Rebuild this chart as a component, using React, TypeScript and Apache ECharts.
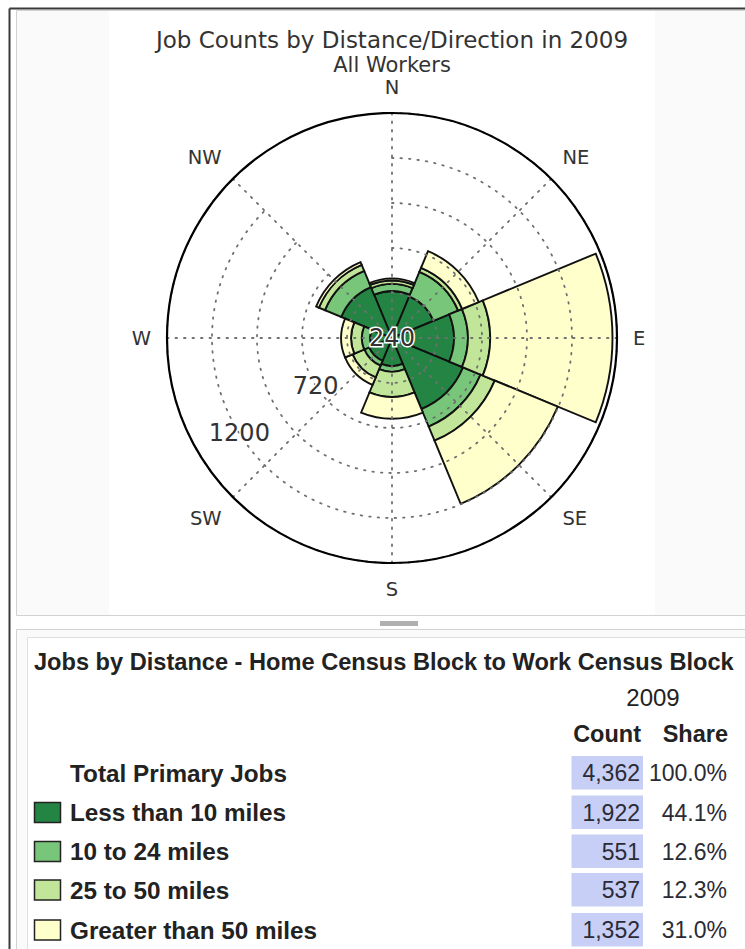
import React, { useEffect, useRef } from 'react';
import * as echarts from 'echarts';

// ---- data ----
const directions = ['N', 'NE', 'E', 'SE', 'S', 'SW', 'W', 'NW'];
const lessThan10 = [250, 240, 330, 410, 150, 132, 117, 293];
const from10to24 = [38, 142, 74, 101, 30, 28, 44, 94];
const from25to50 = [18, 23, 120, 82, 134, 68, 57, 35];
const over50 = [11, 96, 652, 364, 117, 43, 53, 16];
const seriesNames = ['Less than 10 miles', '10 to 24 miles', '25 to 50 miles', 'Greater than 50 miles'];
const seriesColors = ['#238443', '#78c679', '#c2e699', '#ffffcc'];
const radiusLabelTicks = [240, 720, 1200];

const tableRowNames = ['Total Primary Jobs', ...seriesNames];
const tableCounts = [4362, 1922, 551, 537, 1352];
const tableShares = [100.0, 44.1, 12.6, 12.3, 31.0];

const FONT_PLOT = 'DejaVu Sans';
const FONT_TABLE = 'Liberation Sans, Arial, sans-serif';

export default function App() {
  const ref = useRef<HTMLDivElement>(null);

  useEffect(() => {
    if (!ref.current) return;
    const chart = echarts.init(ref.current, undefined, { renderer: 'svg' });
    const seriesData = [lessThan10, from10to24, from25to50, over50];
    const cx = 392;
    const cy = 338;

    const dotted = { color: '#707070', width: 1.8, type: [1.5, 7] as any, cap: 'round' as any };

    const rowY = [773, 812.5, 851.5, 890, 930];
    const tableGraphics: any[] = [];
    tableRowNames.forEach((name, i) => {
      const y = rowY[i];
      if (i > 0) {
        tableGraphics.push({
          type: 'rect', shape: { x: 34.5, y: y - 10, width: 26, height: 20 },
          style: { fill: seriesColors[i - 1], stroke: '#222', lineWidth: 1.5 },
        });
      }
      tableGraphics.push({
        type: 'text', x: 70, y,
        style: { text: name, font: `bold 24.3px ${FONT_TABLE}`, fill: '#222', textAlign: 'left', textVerticalAlign: 'middle' },
      });
      tableGraphics.push({
        type: 'rect', shape: { x: 571.5, y: y - 17, width: 71.5, height: 33.5 },
        style: { fill: '#c8cff6' },
      });
      tableGraphics.push({
        type: 'text', x: 640, y,
        style: { text: tableCounts[i].toLocaleString('en-US'), font: `23px ${FONT_TABLE}`, fill: '#2b2b36', textAlign: 'right', textVerticalAlign: 'middle' },
      });
      tableGraphics.push({
        type: 'text', x: 727, y,
        style: { text: tableShares[i].toFixed(1) + '%', font: `23px ${FONT_TABLE}`, fill: '#2b2b36', textAlign: 'right', textVerticalAlign: 'middle' },
      });
    });

    chart.setOption({
      animation: false,
      backgroundColor: '#ffffff',
      graphic: [
        // top panel
        { type: 'rect', z: -10, shape: { x: 16.5, y: 10.5, width: 740, height: 605 }, style: { fill: '#fafafa', stroke: '#d2d2d2', lineWidth: 1 } },
        { type: 'rect', z: -9, shape: { x: 109, y: 11, width: 546, height: 604 }, style: { fill: '#ffffff' } },
        // splitter
        { type: 'rect', z: -10, shape: { x: 380, y: 621, width: 38, height: 5 }, style: { fill: '#b0b0b0' } },
        // lower panel
        { type: 'rect', z: -10, shape: { x: 16.5, y: 629.5, width: 740, height: 330 }, style: { fill: '#fafafa', stroke: '#d2d2d2', lineWidth: 1 } },
        { type: 'rect', z: -9, shape: { x: 27.5, y: 637.5, width: 730, height: 330 }, style: { fill: '#ffffff', stroke: '#e0e0e0', lineWidth: 1 } },
        // outer frame
        { type: 'line', z: 50, shape: { x1: 9.5, y1: 8.5, x2: 745, y2: 8.5 }, style: { stroke: '#3a3a3a', lineWidth: 2 } },
        { type: 'line', z: 50, shape: { x1: 9.5, y1: 8.5, x2: 9.5, y2: 949 }, style: { stroke: '#3a3a3a', lineWidth: 2 } },
        // chart title
        { type: 'text', x: cx, y: 40, style: { text: 'Job Counts by Distance/Direction in 2009', font: `23px ${FONT_PLOT}`, fill: '#333', textAlign: 'center', textVerticalAlign: 'middle' } },
        { type: 'text', x: cx, y: 64.5, style: { text: 'All Workers', font: `21px ${FONT_PLOT}`, fill: '#333', textAlign: 'center', textVerticalAlign: 'middle' } },
        // table header
        { type: 'text', x: 34, y: 662, style: { text: 'Jobs by Distance - Home Census Block to Work Census Block', font: `bold 23.6px ${FONT_TABLE}`, fill: '#222', textAlign: 'left', textVerticalAlign: 'middle' } },
        { type: 'text', x: 653, y: 697, style: { text: '2009', font: `24px ${FONT_TABLE}`, fill: '#222', textAlign: 'center', textVerticalAlign: 'middle' } },
        { type: 'text', x: 641, y: 734, style: { text: 'Count', font: `bold 23.5px ${FONT_TABLE}`, fill: '#222', textAlign: 'right', textVerticalAlign: 'middle' } },
        { type: 'text', x: 728, y: 734, style: { text: 'Share', font: `bold 23.5px ${FONT_TABLE}`, fill: '#222', textAlign: 'right', textVerticalAlign: 'middle' } },
        ...tableGraphics,
      ],
      polar: [
        { center: [cx, cy], radius: 225 },
        { center: [cx, cy], radius: 225 },
        { center: [cx, cy], radius: 225 },
      ],
      angleAxis: [
        {
          // bars + compass labels
          polarIndex: 0,
          type: 'category',
          data: directions,
          boundaryGap: false,
          startAngle: 90,
          clockwise: true,
          z: 5,
          axisLine: { show: false },
          axisTick: { show: false },
          axisLabel: { show: true, margin: 16, fontSize: 19.5, color: '#333', fontFamily: FONT_PLOT },
          splitLine: { show: false },
        },
        {
          // outer circle and radial dotted grid lines
          polarIndex: 1,
          type: 'value',
          min: 0,
          max: 360,
          interval: 45,
          startAngle: 90,
          clockwise: true,
          z: 5,
          axisLine: { show: true, lineStyle: { color: '#000', width: 2.2 } },
          axisTick: { show: false },
          axisLabel: { show: false },
          splitLine: { show: true, lineStyle: dotted },
        },
        {
          // direction of the radial tick labels
          polarIndex: 2,
          type: 'value',
          min: 0,
          max: 360,
          startAngle: 212,
          show: false,
        },
      ],
      radiusAxis: [
        {
          polarIndex: 0,
          type: 'value',
          min: 0,
          max: 1200,
          interval: 240,
          z: 5,
          axisLine: { show: false },
          axisTick: { show: false },
          axisLabel: { show: false },
          splitLine: { show: true, lineStyle: dotted },
        },
        {
          polarIndex: 1,
          type: 'value',
          min: 0,
          max: 1200,
          show: false,
        },
        {
          polarIndex: 2,
          type: 'value',
          min: 240,
          max: 1440,
          interval: 240,
          z: 6,
          axisLine: { show: false },
          axisTick: { show: false },
          splitLine: { show: false },
          axisLabel: {
            show: true,
            margin: 0,
            align: 'center',
            verticalAlign: 'middle',
            showMinLabel: true,
            showMaxLabel: false,
            formatter: (v: number) => (radiusLabelTicks.includes(v) ? String(v) : ''),
            fontSize: 24,
            fontFamily: FONT_PLOT,
            color: '#333',
            textBorderColor: '#fff',
            textBorderWidth: 3,
          },
        },
      ],
      series: seriesNames.map((name, i) => ({
        type: 'bar',
        name,
        coordinateSystem: 'polar',
        polarIndex: 0,
        stack: 'jobs',
        data: seriesData[i],
        barCategoryGap: '0%',
        z: 2,
        itemStyle: { color: seriesColors[i], borderColor: '#111', borderWidth: 1.9 },
        emphasis: { disabled: true },
      })),
    });

    return () => chart.dispose();
  }, []);

  return <div ref={ref} style={{ position: 'fixed', left: 0, top: 0, width: 745, height: 949 }} />;
}
